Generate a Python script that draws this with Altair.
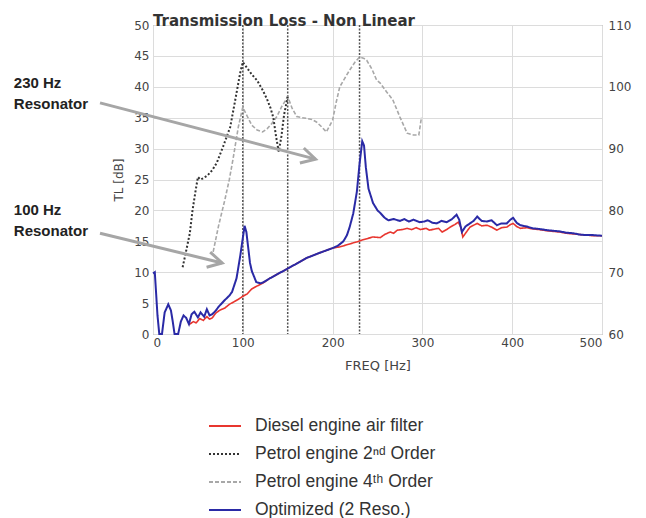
import altair as alt
import pandas as pd

# ---------------- data ----------------
S1 = "Diesel engine air filter"
S2 = "Petrol engine 2ⁿᵈ Order"
S3 = "Petrol engine 4ᵗʰ  Order"
S4 = "Optimized (2 Reso.)"

opt_f = [0, 2, 5, 7, 10, 13, 17, 20, 22, 24, 28, 31, 34, 37, 40, 43, 46, 50, 53, 57, 60, 63, 66, 70, 73,
         80, 85, 88, 93, 97, 100, 102, 104, 106, 108, 110, 115, 120, 122, 130, 140, 149, 160, 171, 185,
         200, 206, 212, 216, 219, 223, 227, 230, 233, 235, 237, 240, 245, 250, 253, 258, 262, 268, 275,
         280, 285, 290, 297, 302, 306, 311, 316, 321, 327, 333, 338, 341, 344, 348, 353, 357, 361, 366,
         372, 377, 383, 388, 394, 398, 401, 405, 409, 416, 423, 430, 439, 446, 453, 460, 468, 475, 483,
         490, 500]
opt_v = [9.8, 10.0, 3.0, 0.0, 0.0, 3.5, 4.8, 3.8, 2.0, 0.0, 0.0, 2.0, 3.0, 2.6, 1.6, 3.2, 3.6, 2.7, 3.5,
         2.8, 4.0, 3.0, 3.2, 3.8, 4.4, 5.5, 6.2, 6.8, 9.0, 12.5, 15.5, 17.5, 16.5, 14.0, 11.5, 10.2, 8.4,
         8.2, 8.3, 9.0, 9.8, 10.5, 11.4, 12.3, 13.1, 13.9, 14.3, 15.0, 16.0, 17.3, 19.5, 23.0, 27.5, 31.2,
         30.5, 27.0, 23.5, 21.2, 20.0, 19.6, 18.8, 18.4, 18.6, 18.3, 18.6, 18.2, 18.5, 18.1, 18.2, 18.4,
         18.0, 17.9, 18.3, 18.1, 18.6, 19.3, 18.5, 16.5, 17.4, 17.9, 18.3, 19.0, 18.3, 18.2, 18.4, 17.6,
         17.9, 17.9, 18.5, 18.8, 18.0, 17.6, 17.4, 17.1, 17.0, 16.8, 16.7, 16.6, 16.4, 16.3, 16.1, 16.0,
         16.0, 15.9]

dsl_f = [40, 45, 48, 52, 56, 60, 63, 66, 70, 75, 80, 85, 90, 95, 100, 105, 110, 115, 122, 130, 140, 149,
         160, 171, 185, 200, 208, 215, 222, 227, 235, 245, 253, 258, 264, 268, 272, 278, 283, 288, 293,
         298, 304, 308, 314, 318, 322, 327, 331, 336, 340, 343, 345, 349, 353, 357, 361, 366, 372, 377,
         383, 388, 394, 398, 401, 405, 409, 416, 423, 430, 439, 446, 453, 460, 468, 475, 483, 490, 500]
dsl_v = [1.5, 2.0, 1.8, 2.5, 2.2, 2.8, 2.4, 2.6, 3.4, 3.9, 4.2, 4.8, 5.2, 5.6, 6.1, 6.5, 7.3, 7.7, 8.2,
         9.0, 9.8, 10.5, 11.4, 12.3, 13.1, 13.9, 14.1, 14.4, 14.7, 14.9, 15.3, 15.7, 15.6, 16.1, 16.5,
         16.3, 16.8, 16.9, 17.1, 16.9, 17.2, 16.9, 17.1, 16.8, 17.0, 17.1, 16.5, 16.9, 17.3, 17.7, 18.1,
         17.2, 15.7, 16.5, 17.3, 17.6, 17.9, 17.5, 17.6, 17.3, 16.8, 17.2, 17.3, 17.7, 17.9, 17.4, 17.1,
         17.2, 17.0, 16.9, 16.7, 16.6, 16.5, 16.3, 16.2, 16.1, 16.0, 15.9, 15.9]

p2_f = [33, 37, 41, 44, 47, 50, 53, 56, 61, 66, 71, 78, 86, 91, 97, 100, 105, 110, 116, 122, 127, 131,
        134, 137, 140, 143, 146, 150]
p2_v = [10.8, 13.5, 16.3, 20.0, 22.8, 25.4, 25.0, 25.2, 25.7, 26.5, 27.7, 30.3, 33.5, 37.4, 42.2, 44.0,
        43.0, 42.0, 41.0, 39.5, 38.0, 36.5, 35.0, 32.0, 29.5, 32.0, 35.5, 38.4]

p4_f = [67, 73, 80, 85, 89, 95, 100, 104, 110, 116, 122, 127, 132, 138, 143, 150, 155, 160, 166, 171,
        177, 182, 188, 193, 200, 204, 208, 214, 219, 225, 230, 235, 238, 244, 249, 253, 260, 267, 275,
        283, 290, 296, 299]
p4_v = [13.3, 17.5, 21.7, 25.0, 28.2, 33.5, 36.7, 35.5, 33.8, 33.0, 32.7, 33.2, 34.0, 35.2, 36.7, 38.4,
        36.5, 35.2, 35.0, 34.9, 34.7, 34.3, 33.5, 32.7, 34.6, 37.5, 40.0, 41.5, 42.7, 44.0, 44.8, 44.6,
        44.3, 42.8, 41.1, 40.6, 39.2, 37.9, 35.1, 32.5, 32.2, 32.2, 35.1]

marker_f = [100, 150, 230]

ann_x = [-155, -155, -155, -155]
ann_y = [40.6, 37.2, 20.1, 16.7]
ann_t = ["230 Hz", "Resonator", "100 Hz", "Resonator"]

arr_x = [-59, -59]
arr_y = [37.4, 16.3]
arr_x2 = [181, 77]
arr_y2 = [28.3, 11.5]
arr_ang = [14.6, 13.4]

right_ticks = [60, 110]

series_names = [S1, S2, S3, S4]
series_colors = ["#e8362f", "#333333", "#a8a8a8", "#2a2aa6"]
series_dash = [[1, 0], [2, 2], [4, 2], [1, 0]]

# ---------------- chart ----------------
FONT = "DejaVu Sans"

xs = alt.Scale(domain=[0, 500], nice=False)
ys = alt.Scale(domain=[0, 50], nice=False)

legend_cfg = dict(title=None, orient="none", legendX=55, legendY=384,
                  symbolType="stroke", symbolSize=1024, symbolStrokeWidth=2,
                  labelFont="Liberation Sans", labelFontSize=17.5, labelColor="#333",
                  labelOffset=13, rowPadding=2, labelLimit=400)
color_enc = alt.Color("series:N", scale=alt.Scale(domain=series_names, range=series_colors),
                      legend=alt.Legend(**legend_cfg))
dash_enc = alt.StrokeDash("series:N", scale=alt.Scale(domain=series_names, range=series_dash),
                          legend=alt.Legend(**legend_cfg))

x_axis = alt.Axis(values=[0, 100, 200, 300, 400, 500], grid=True, gridColor="#dcdcdc", domain=False,
                  ticks=False, labelPadding=3, title="FREQ [Hz]", titlePadding=11,
                  titleFont=FONT, titleFontSize=13, titleFontWeight="normal", titleColor="#444",
                  labelFont=FONT, labelFontSize=12, labelColor="#444")
y_axis = alt.Axis(values=list(range(0, 51, 5)), grid=True, gridColor="#dcdcdc", domain=False,
                  ticks=False, labelPadding=4, title="TL [dB]", titlePadding=8,
                  titleFont=FONT, titleFontSize=12, titleFontWeight="normal", titleColor="#444",
                  labelFont=FONT, labelFontSize=12, labelColor="#444")


def X(field):
    return alt.X(field, scale=xs, axis=x_axis)


def Y(field):
    return alt.Y(field, scale=ys, axis=y_axis)


def series_df(f, v, name):
    return pd.DataFrame({"freq": f, "tl": v, "series": name})


markers = alt.Chart(pd.DataFrame({"freq": marker_f})).mark_rule(
    color="#555555", strokeDash=[2, 1.5], strokeWidth=1.5
).encode(x=X("freq:Q"))


def line_layer(f, v, name, width):
    return alt.Chart(series_df(f, v, name)).mark_line(strokeWidth=width).encode(
        x=X("freq:Q"), y=Y("tl:Q"), color=color_enc, strokeDash=dash_enc,
    )


l_p4 = line_layer(p4_f, p4_v, S3, 1.6)
l_p2 = line_layer(p2_f, p2_v, S2, 2.0)
l_dsl = line_layer(dsl_f, dsl_v, S1, 1.6)
l_opt = line_layer(opt_f, opt_v, S4, 2.0)

arrows_df = pd.DataFrame({"x": arr_x, "y": arr_y, "x2": arr_x2, "y2": arr_y2, "ang": arr_ang})
shaft = alt.Chart(arrows_df).mark_rule(color="#a6a6a6", strokeWidth=3).encode(
    x=X("x:Q"), y=Y("y:Q"), x2="x2:Q", y2="y2:Q",
)
head = alt.Chart(arrows_df).mark_point(
    shape="M-1,-0.55L0,0L-1,0.55", filled=False, color="#a6a6a6", strokeWidth=3, size=800, opacity=1
).encode(
    x=X("x2:Q"), y=Y("y2:Q"), angle=alt.Angle("ang:Q", scale=None),
)

ann = alt.Chart(pd.DataFrame({"x": ann_x, "y": ann_y, "t": ann_t})).mark_text(
    align="left", baseline="middle", font="Liberation Sans", fontSize=15, fontWeight="bold", color="#222"
).encode(
    x=X("x:Q"), y=Y("y:Q"), text="t:N",
)

left = alt.layer(markers, l_p4, l_p2, l_dsl, l_opt, shaft, head, ann)

right = alt.Chart(pd.DataFrame({"r": right_ticks})).mark_point(opacity=0).encode(
    y=alt.Y("r:Q", scale=alt.Scale(domain=[60, 110], nice=False),
            axis=alt.Axis(orient="right", values=[60, 70, 80, 90, 100, 110], grid=False, domain=False,
                          ticks=False, labelPadding=6, title=None,
                          labelFont=FONT, labelFontSize=12, labelColor="#444")),
    x=alt.value(0),
)

chart = alt.layer(left, right).resolve_scale(y="independent").properties(
    width=449, height=309,
    title=alt.TitleParams("Transmission Loss - Non Linear", anchor="start", frame="group", font=FONT,
                          fontSize=15, fontWeight="bold", color="#333", offset=2, dy=12),
    autosize=alt.AutoSizeParams(type="none"),
    padding={"left": 145, "top": 17, "right": 36, "bottom": 192},
).configure_view(stroke="#888888", strokeWidth=1)

chart.save("out.html", embed_options={"renderer": "svg", "actions": False})
